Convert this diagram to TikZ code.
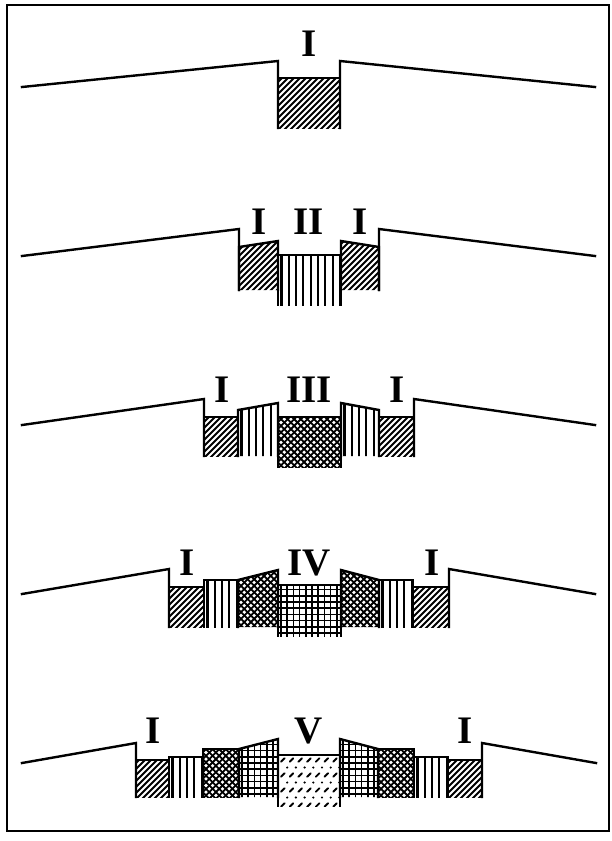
\documentclass[tikz,border=0pt]{standalone}
\usepackage{fontspec}
\setmainfont{Liberation Serif}
\tikzset{
  wall/.style={line width=2.4pt, line join=miter, line cap=rect},
  frame/.style={line width=2.4pt},
  hline/.style={line width=2pt},
  vline/.style={line width=2.1pt},
  xline/.style={line width=1.8pt},
  gline/.style={line width=1.6pt},
  dline/.style={line width=1.9pt, line cap=round},
  lbl/.style={font=\fontsize{39}{39}\selectfont\bfseries, anchor=base, inner sep=0pt}
}
% hatch fillers: #1 = left x, #2 = right x, #3 = bottom y
\newcommand\hatchI[3]{\foreach \k in {0,...,22}{\draw[hline] (#1-60+\k*6,#3+2)--++(62,-62);}}
\newcommand\hatchII[3]{\foreach \k in {0,...,9}{\draw[vline] (#1+3.5+\k*7.3,#3+2)--++(0,-62);}}
\newcommand\hatchIII[3]{\foreach \k in {0,...,22}{%
  \draw[xline] (#1-60+\k*6.6,#3+2)--++(62,-62);
  \draw[xline] (#1+\k*6.6,#3+2)--++(-62,-62);}}
\newcommand\hatchIV[3]{\foreach \k in {0,...,11}{%
  \draw[gline] (#1+3+\k*6.2,#3+2)--++(0,-62);
  \draw[gline] (#1-2,#3-3-\k*6.2)--++(70,0);}}
\newcommand\hatchV[3]{\foreach \r in {0,...,3}{\foreach \k in {0,...,7}{%
  \draw[dline] (#1+3+\k*8.7,#3-1-\r*15+1.8)--++(3.6,-3.6);
  \fill (#1+9.2+\k*8.7,#3-8.5-\r*15) circle (1.2);}}}
\newcommand\blockpiece[6]{%
  \begin{scope}
    \clip (#1,#5)--(#1,#2)--(#3,#4)--(#3,#5)--cycle;
    \csname hatch#6\endcsname{#1}{#3}{#5}
  \end{scope}
  \draw[wall] (#1,#5)--(#1,#2)--(#3,#4)--(#3,#5);
}
\begin{document}
\begin{tikzpicture}[x=1pt,y=-1pt]
\useasboundingbox (0,0) rectangle (612,841);
\draw[frame] (7,5) rectangle (609,831);

% ---------- panel 1
\blockpiece{278}{78}{340}{78}{128}{I}
\draw[wall] (22,87)--(278,61)--(278,128);
\draw[wall] (595,87)--(340,61)--(340,128);
\node[lbl] (l1) at (309,56) {I};

% ---------- panel 2
\blockpiece{239}{247}{278}{241}{290}{I}
\blockpiece{278}{255}{341}{255}{305}{II}
\blockpiece{341}{241}{379}{247}{290}{I}
\draw[wall] (22,256)--(239,229)--(239,290);
\draw[wall] (595,256)--(379,229)--(379,290);
\node[lbl] (l2a) at (259,234) {I};
\node[lbl] (l2b) at (309,234) {II};
\node[lbl] (l2c) at (360,234) {I};

% ---------- panel 3
\blockpiece{204}{417}{238}{417}{456}{I}
\blockpiece{238}{410}{278}{403}{456}{II}
\blockpiece{278}{417}{341}{417}{467}{III}
\blockpiece{341}{403}{379}{410}{456}{II}
\blockpiece{379}{417}{414}{417}{456}{I}
\draw[wall] (22,425)--(204,399)--(204,456);
\draw[wall] (595,425)--(414,399)--(414,456);
\node[lbl] (l3a) at (222,402) {I};
\node[lbl] (l3b) at (309,402) {III};
\node[lbl] (l3c) at (397,402) {I};

% ---------- panel 4
\blockpiece{169}{587}{204}{587}{627}{I}
\blockpiece{204}{580}{238}{580}{627}{II}
\blockpiece{238}{580}{278}{570}{627}{III}
\blockpiece{278}{585}{341}{585}{636}{IV}
\blockpiece{341}{570}{379}{580}{627}{III}
\blockpiece{379}{580}{413}{580}{627}{II}
\blockpiece{413}{587}{449}{587}{627}{I}
\draw[wall] (22,594)--(169,569)--(169,627);
\draw[wall] (595,594)--(449,569)--(449,627);
\node[lbl] (l4a) at (187,575) {I};
\node[lbl] (l4b) at (309,575) {IV};
\node[lbl] (l4c) at (432,575) {I};

% ---------- panel 5
\blockpiece{136}{760}{169}{760}{797}{I}
\blockpiece{169}{757}{203}{757}{797}{II}
\blockpiece{203}{749}{239}{749}{797}{III}
\blockpiece{239}{749}{278}{739}{797}{IV}
\blockpiece{278}{755}{340}{755}{806}{V}
\blockpiece{340}{739}{378}{749}{797}{IV}
\blockpiece{378}{749}{414}{749}{797}{III}
\blockpiece{414}{757}{448}{757}{797}{II}
\blockpiece{448}{760}{482}{760}{797}{I}
\draw[wall] (22,763)--(136,743)--(136,797);
\draw[wall] (596,763)--(482,743)--(482,797);
\node[lbl] (l5a) at (153,743) {I};
\node[lbl] (l5b) at (309,743) {V};
\node[lbl] (l5c) at (465,743) {I};
\end{tikzpicture}
\end{document}
